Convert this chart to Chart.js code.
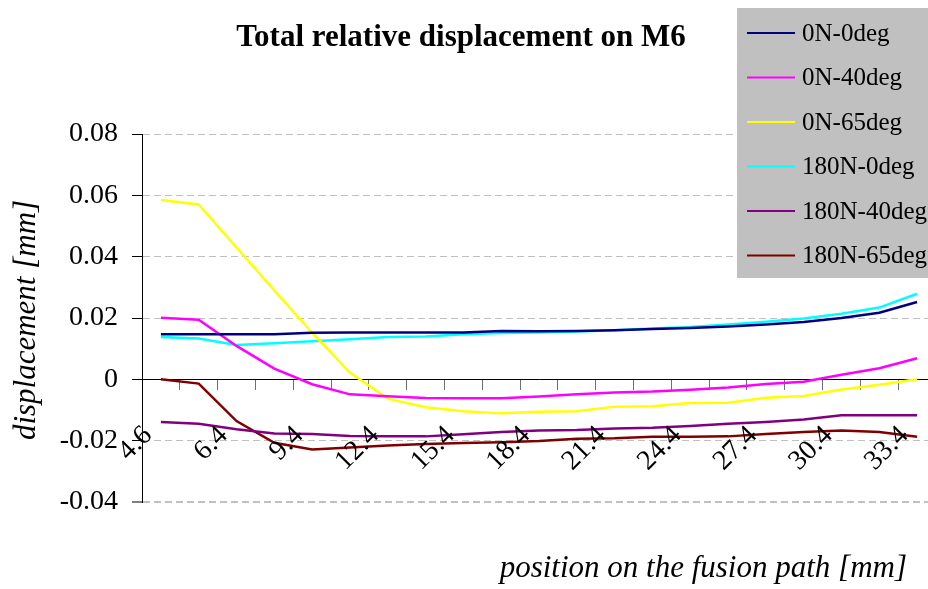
<!DOCTYPE html>
<html>
<head>
<meta charset="utf-8">
<script src="https://cdn.jsdelivr.net/npm/chart.js@4.4.1/dist/chart.umd.min.js"></script>
<style>
  html, body { margin: 0; padding: 0; background: #fff; overflow: hidden; }
  #wrap { width: 928px; height: 589px; overflow: hidden; position: relative; }
  canvas { display: block; }
</style>
</head>
<body>
<div id="wrap"><canvas id="chart" width="940" height="589"></canvas></div>
<script>
// Position along the fusion path [mm]
const positions = ['4.6', '5.5', '6.4', '7.9', '9.4', '10.9', '12.4', '13.9', '15.4', '16.9', '18.4',
                   '19.9', '21.4', '22.9', '24.4', '25.9', '27.4', '28.9', '30.4', '31.9', '33.4'];

// Total relative displacement [mm] for each load case
const n0deg0   = [0.0147, 0.0147, 0.0147, 0.0147, 0.0152, 0.0153, 0.0153, 0.0153, 0.0153, 0.0158, 0.0157,
                  0.0158, 0.0160, 0.0164, 0.0167, 0.0172, 0.0179, 0.0187, 0.0200, 0.0217, 0.0252];
const n0deg40  = [0.0201, 0.0194, 0.0109, 0.0035, -0.0016, -0.0049, -0.0055, -0.0061, -0.0062, -0.0062, -0.0056,
                  -0.0049, -0.0043, -0.0040, -0.0034, -0.0027, -0.0015, -0.0008, 0.0015, 0.0036, 0.0069];
const n0deg65  = [0.0585, 0.0570, 0.0430, 0.0290, 0.0152, 0.0022, -0.0063, -0.0091, -0.0104, -0.0111, -0.0106,
                  -0.0104, -0.0089, -0.0088, -0.0077, -0.0076, -0.0060, -0.0054, -0.0033, -0.0018, 0.0000];
const n180deg0 = [0.0138, 0.0133, 0.0112, 0.0118, 0.0124, 0.0131, 0.0138, 0.0140, 0.0147, 0.0151, 0.0153,
                  0.0156, 0.0160, 0.0166, 0.0171, 0.0179, 0.0188, 0.0198, 0.0214, 0.0234, 0.0279];
const n180deg40 = [-0.0139, -0.0145, -0.0163, -0.0177, -0.0178, -0.0185, -0.0186, -0.0186, -0.0179, -0.0172, -0.0167,
                   -0.0165, -0.0160, -0.0158, -0.0152, -0.0145, -0.0139, -0.0131, -0.0117, -0.0117, -0.0117];
const n180deg65 = [0.0000, -0.0014, -0.0136, -0.0207, -0.0229, -0.0222, -0.0216, -0.0211, -0.0208, -0.0205, -0.0201,
                   -0.0194, -0.0192, -0.0187, -0.0187, -0.0186, -0.0178, -0.0172, -0.0167, -0.0172, -0.0187];

const seriesNames  = ['0N-0deg', '0N-40deg', '0N-65deg', '180N-0deg', '180N-40deg', '180N-65deg'];
const seriesValues = [n0deg0, n0deg40, n0deg65, n180deg0, n180deg40, n180deg65];
const seriesColors = ['#000080', '#FF00FF', '#FFFF00', '#00FFFF', '#800080', '#800000'];

// Value axis
const yMin = -0.04, yMax = 0.08, yStep = 0.02;

const chartTitle = 'Total relative displacement on M6';
const yTitle = 'displacement [mm]';
const xTitle = 'position on the fusion path [mm]';

const SERIF = '"Liberation Serif", "Times New Roman", serif';

// White page, then title, axis titles and a boxed legend on top of the plot
const decorations = {
  id: 'decorations',
  beforeDraw(chart) {
    const ctx = chart.ctx;
    ctx.save();
    ctx.fillStyle = '#ffffff';
    ctx.fillRect(0, 0, chart.width, chart.height);
    ctx.restore();
  },
  afterDraw(chart) {
    const ctx = chart.ctx;
    ctx.save();
    ctx.fillStyle = '#000';

    // chart title
    ctx.font = 'bold 31px ' + SERIF;
    ctx.textAlign = 'center';
    ctx.textBaseline = 'alphabetic';
    ctx.fillText(chartTitle, 461, 46);

    // value axis title
    ctx.save();
    ctx.translate(27, 320);
    ctx.rotate(-Math.PI / 2);
    ctx.font = 'italic 31px ' + SERIF;
    ctx.textAlign = 'center';
    ctx.textBaseline = 'middle';
    ctx.fillText(yTitle, 0, 0);
    ctx.restore();

    // category axis title
    ctx.font = 'italic 31px ' + SERIF;
    ctx.textAlign = 'right';
    ctx.textBaseline = 'alphabetic';
    ctx.fillText(xTitle, 907, 577);

    // legend
    ctx.fillStyle = '#C0C0C0';
    ctx.fillRect(737, 8, chart.width - 737, 270);
    ctx.font = '25px ' + SERIF;
    ctx.textAlign = 'left';
    ctx.textBaseline = 'middle';
    chart.data.datasets.forEach((ds, i) => {
      const y = 33 + i * 44.5;
      ctx.strokeStyle = ds.borderColor;
      ctx.lineWidth = 2;
      ctx.beginPath();
      ctx.moveTo(747, y);
      ctx.lineTo(795, y);
      ctx.stroke();
      ctx.fillStyle = '#000';
      ctx.fillText(ds.label, 802, y + 1);
    });
    ctx.restore();
  }
};

new Chart(document.getElementById('chart'), {
  type: 'line',
  data: {
    labels: positions,
    datasets: seriesNames.map((name, i) => ({
      label: name,
      data: seriesValues[i],
      borderColor: seriesColors[i],
      backgroundColor: seriesColors[i],
      borderWidth: 2.5,
      pointRadius: 0,
      tension: 0,
      fill: false
    }))
  },
  options: {
    responsive: false,
    animation: false,
    devicePixelRatio: 1,
    layout: { padding: { left: 0, right: 4, top: 134, bottom: 87 } },
    plugins: {
      legend: { display: false },
      title: { display: false },
      tooltip: { enabled: false }
    },
    scales: {
      x: {
        type: 'category',
        position: { y: 0 },
        offset: true,
        afterFit(scale) {
          // rotated labels must not shrink the plot area
          scale.paddingLeft = 0;
          scale.paddingRight = 0;
        },
        grid: {
          offset: true,
          drawOnChartArea: false,
          drawTicks: true,
          tickLength: 10,
          tickColor: '#707070',
          tickWidth: 1
        },
        border: { display: true, color: '#000', width: 1 },
        ticks: {
          z: 1,
          autoSkip: false,
          minRotation: 45,
          maxRotation: 45,
          padding: 30,
          labelOffset: -13,
          color: '#000',
          font: { family: SERIF, size: 28 },
          callback: (v, i) => (i % 2 === 0 ? positions[i] : '')
        }
      },
      y: {
        min: yMin,
        max: yMax,
        afterFit(scale) { scale.width = 142; },
        grid: {
          color: '#C0C0C0',
          lineWidth: (c) => (c.tick && Math.abs(c.tick.value - yMin) < 1e-9 ? 2 : 1),
          tickLength: 10,
          tickColor: '#000',
          tickWidth: 1
        },
        border: { display: true, color: '#000', width: 1, dash: [7, 4] },
        ticks: {
          stepSize: yStep,
          padding: 14,
          color: '#000',
          font: { family: SERIF, size: 28 },
          callback: (v) => String(Number(v.toFixed(2)))
        }
      }
    }
  },
  plugins: [decorations]
});
</script>
</body>
</html>
